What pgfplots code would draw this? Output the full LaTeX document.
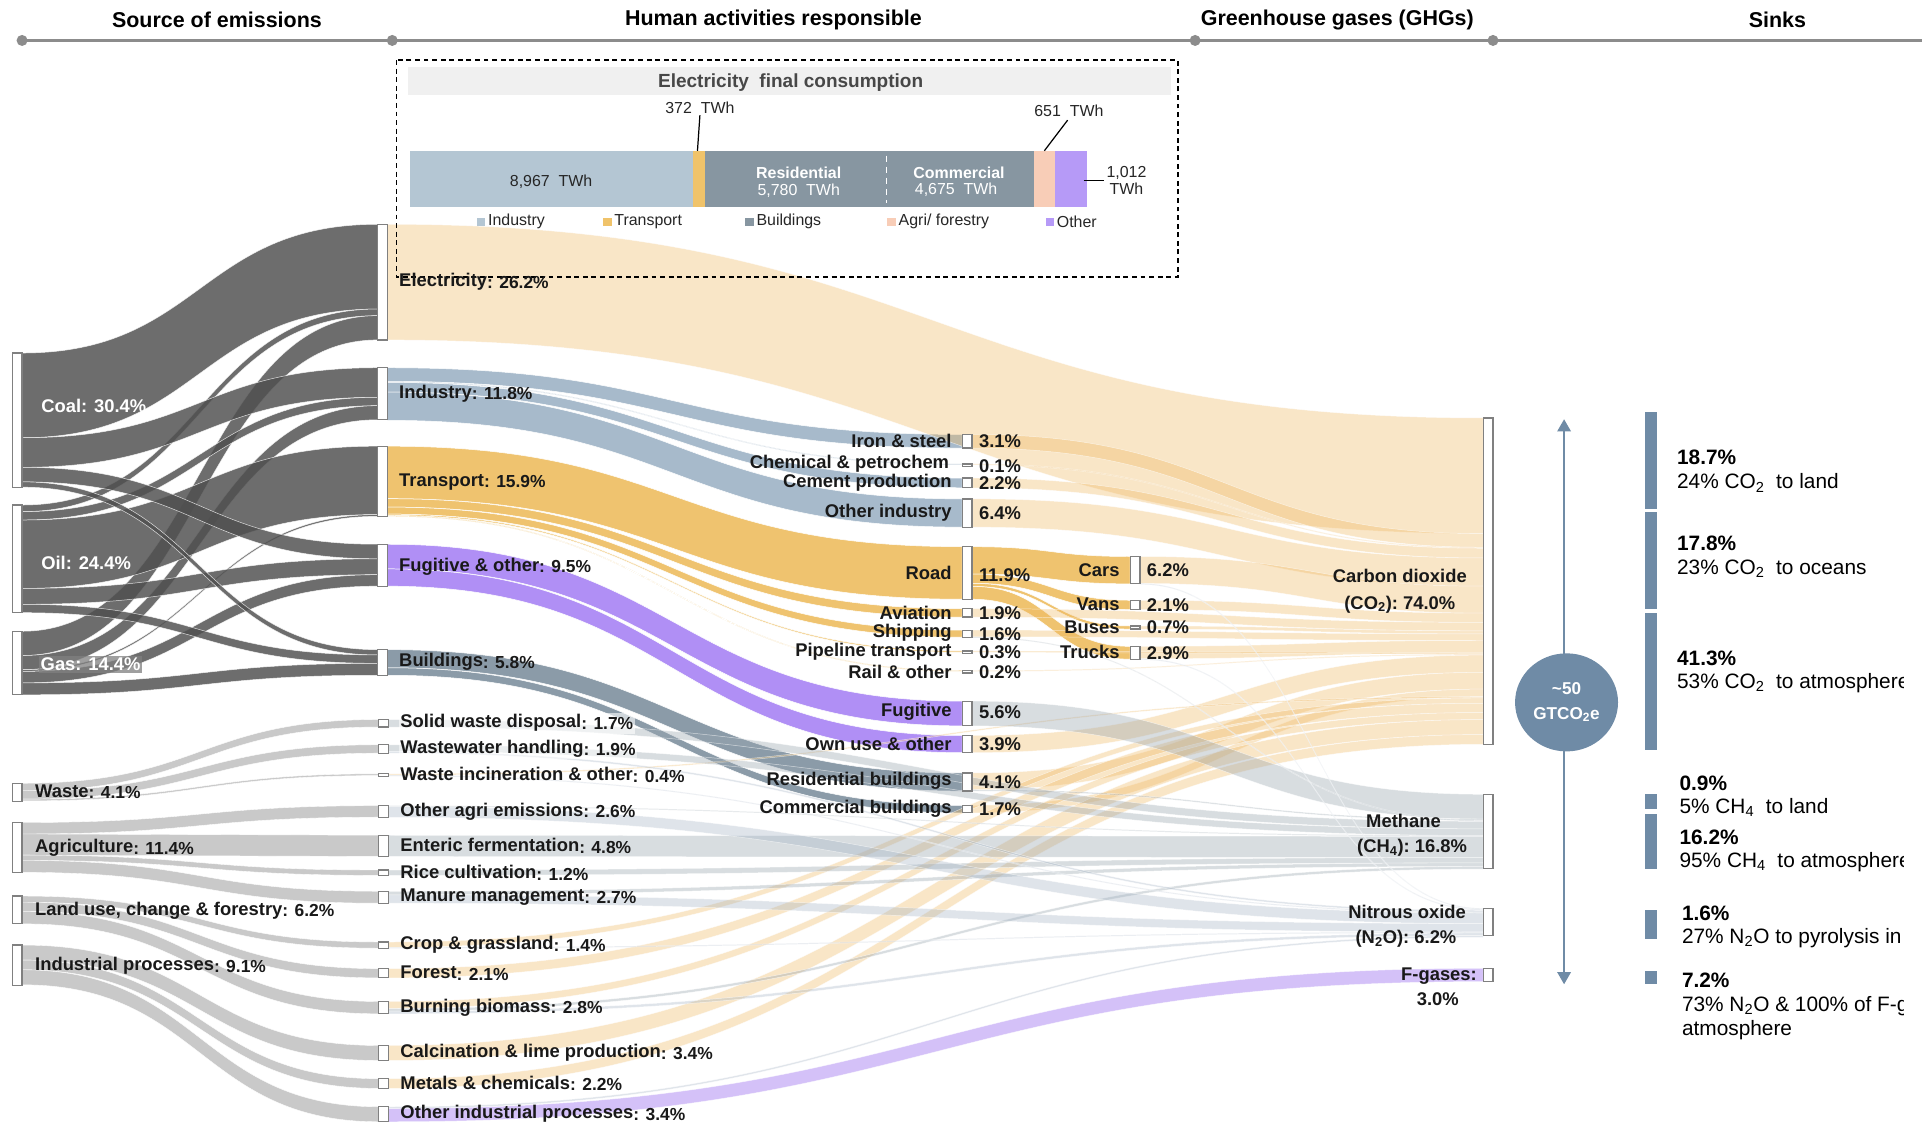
\documentclass[border=0pt]{standalone}
\usepackage{fontspec}
\setmainfont{Liberation Sans}
\usepackage{pgfplots}
\pgfplotsset{compat=1.18}
\usetikzlibrary{arrows.meta}

\definecolor{srcg}{RGB}{80,80,80}
\definecolor{lowg}{RGB}{188,188,188}
\definecolor{cind}{RGB}{167,186,203}
\definecolor{ctr}{RGB}{239,195,111}
\definecolor{cfug}{RGB}{176,143,245}
\definecolor{cbld}{RGB}{139,155,168}
\definecolor{cco2}{RGB}{240,184,96}
\definecolor{cch4}{RGB}{154,166,176}
\definecolor{cn2o}{RGB}{160,176,194}
\definecolor{cfg}{RGB}{178,143,244}
\definecolor{sinkc}{RGB}{111,139,166}
\definecolor{nodeb}{RGB}{128,128,128}
\definecolor{hdr}{RGB}{140,140,140}
\definecolor{txt}{RGB}{25,25,25}
\definecolor{bInd}{RGB}{180,198,211}
\definecolor{bTr}{RGB}{240,195,106}
\definecolor{bBl}{RGB}{135,150,161}
\definecolor{bAg}{RGB}{248,205,183}
\definecolor{bOt}{RGB}{182,154,247}

\newcommand\F[1]{\fontsize{#1}{#1}\selectfont}
\newcommand\pc[1]{\raisebox{-1.2pt}{\F{14.2}\bfseries: #1}}

\tikzset{
 fsrc/.style={fill=srcg, fill opacity=0.83, draw=white, draw opacity=0.8, line width=0.4pt},
 flow/.style={fill=lowg, fill opacity=0.8, draw=white, line width=0.3pt},
 find/.style={fill=cind, draw=white, line width=0.4pt},
 ftr/.style={fill=ctr, draw=white, line width=0.4pt},
 ffug/.style={fill=cfug, draw=white, line width=0.4pt},
 fbld/.style={fill=cbld, draw=white, line width=0.4pt},
 fco2/.style={fill=cco2, fill opacity=0.35, draw=white, draw opacity=0.6, line width=0.4pt},
 fch4/.style={fill=cch4, fill opacity=0.38, draw=white, draw opacity=0.6, line width=0.4pt},
 fn2o/.style={fill=cn2o, fill opacity=0.33, draw=white, draw opacity=0.6, line width=0.4pt},
 ffg/.style={fill=cfg, fill opacity=0.55, draw=white, draw opacity=0.6, line width=0.4pt},
 lb/.style={font={\F{15}\bfseries}, text=txt, inner sep=0.5pt},
 gl/.style={font={\F{15}\bfseries}, text=txt, inner sep=0pt},
 sk/.style={font={\F{17}}, text=black, anchor=west, inner sep=0pt},
 skb/.style={font={\F{17}\bfseries}, text=black, anchor=west, inner sep=0pt},
 it/.style={font={\F{13}}, text=black!85, inner sep=0pt}
}

% node: name, x, ytop, value
\newcommand\defnode[4]{%
  \expandafter\xdef\csname NX#1\endcsname{#2}%
  \expandafter\xdef\csname NT#1\endcsname{#3}%
  \expandafter\xdef\csname NV#1\endcsname{#4}%
  \expandafter\xdef\csname NO#1\endcsname{#3}%
  \expandafter\xdef\csname NI#1\endcsname{#3}}

% flow: source, target, value (% of total), style
\newcommand\flow[4]{%
  \pgfmathsetmacro\fxa{\csname NX#1\endcsname+8}%
  \pgfmathsetmacro\fya{\csname NO#1\endcsname}%
  \pgfmathsetmacro\fxb{\csname NX#2\endcsname}%
  \pgfmathsetmacro\fyb{\csname NI#2\endcsname}%
  \pgfmathsetmacro\fw{max(3.6*#3,0.8)}%
  \pgfmathsetmacro\fxm{(\fxa+\fxb)/2}%
  \pgfmathsetmacro\fyaa{\fya+\fw}%
  \pgfmathsetmacro\fybb{\fyb+\fw}%
  \expandafter\xdef\csname NO#1\endcsname{\fyaa}%
  \expandafter\xdef\csname NI#2\endcsname{\fybb}%
  \edef\flowcmd{\noexpand\fill[#4] (axis cs:\fxa,\fya) .. controls (axis cs:\fxm,\fya) and (axis cs:\fxm,\fyb) .. (axis cs:\fxb,\fyb) -- (axis cs:\fxb,\fybb) .. controls (axis cs:\fxm,\fybb) and (axis cs:\fxm,\fyaa) .. (axis cs:\fxa,\fyaa) -- cycle;}%
  \flowcmd}

\newcommand\nbox[1]{%
  \pgfmathsetmacro\bxa{\csname NX#1\endcsname}%
  \pgfmathsetmacro\bxb{\bxa+8}%
  \pgfmathsetmacro\bya{\csname NT#1\endcsname}%
  \pgfmathsetmacro\byb{\bya+max(3.6*\csname NV#1\endcsname,2)}%
  \edef\boxcmd{\noexpand\draw[fill=white, draw=nodeb, line width=1pt] (axis cs:\bxa,\bya) rectangle (axis cs:\bxb,\byb);}%
  \boxcmd}

\begin{document}
\begin{tikzpicture}
\useasboundingbox (0,0) rectangle (1568pt,918pt);
\fill[white] (0,0) rectangle (1568pt,918pt);

% ---------- inset stacked bar (electricity final consumption, TWh) ----------
\begin{axis}[at={(334.5pt,749pt)}, anchor=south west, scale only axis,
  width=552pt, height=46pt, xmin=0, xmax=21457, ymin=-0.5, ymax=0.5,
  hide axis, xbar stacked, bar width=46pt, clip=false, enlargelimits=false]
\addplot[fill=bInd, draw=none] coordinates {(8967,0)};
\addplot[fill=bTr, draw=none] coordinates {(372,0)};
\addplot[fill=bBl, draw=none] coordinates {(5780,0)};
\addplot[fill=bBl, draw=none] coordinates {(4675,0)};
\addplot[fill=bAg, draw=none] coordinates {(651,0)};
\addplot[fill=bOt, draw=none] coordinates {(1012,0)};
\end{axis}

\begin{axis}[at={(0pt,0pt)}, anchor=south west, scale only axis,
  width=1568pt, height=918pt, xmin=0, xmax=1568, ymin=0, ymax=918,
  y dir=reverse, hide axis, clip=false]

% ---------- nodes ----------
\defnode{coal}{10}{288}{30.4}
\defnode{oil}{10}{412}{24.4}
\defnode{gas}{10}{515}{14.4}
\defnode{waste}{10}{639}{4.1}
\defnode{agri}{10}{671}{11.4}
\defnode{land}{10}{731}{6.2}
\defnode{indp}{10}{771}{9.1}
\defnode{elec}{308}{183}{26.2}
\defnode{ind}{308}{300}{11.8}
\defnode{trans}{308}{364}{15.9}
\defnode{fug}{308}{444}{9.5}
\defnode{bld}{308}{530}{5.8}
\defnode{sw}{309}{587}{1.7}
\defnode{ww}{309}{607.6}{1.9}
\defnode{inc}{309}{631.3}{0.4}
\defnode{oag}{309}{657.3}{2.6}
\defnode{ent}{309}{681.4}{4.8}
\defnode{rice}{309}{709.8}{1.2}
\defnode{man}{309}{727.1}{2.7}
\defnode{crop}{309}{768.5}{1.4}
\defnode{forest}{309}{790.2}{2.1}
\defnode{burn}{309}{817}{2.8}
\defnode{calc}{309}{852.9}{3.4}
\defnode{met}{309}{880}{2.2}
\defnode{oip}{309}{902.9}{3.4}
\defnode{iron}{785}{354.4}{3.1}
\defnode{chem}{785}{378.5}{0.1}
\defnode{cem}{785}{390}{2.2}
\defnode{oind}{785}{407}{6.4}
\defnode{road}{785}{446}{11.9}
\defnode{avi}{785}{496.6}{1.9}
\defnode{ship}{785}{514.1}{1.6}
\defnode{pipe}{785}{531}{0.3}
\defnode{rail}{785}{547}{0.2}
\defnode{fugv}{785}{572}{5.6}
\defnode{own}{785}{600}{3.9}
\defnode{res}{785}{630.6}{4.1}
\defnode{com}{785}{657}{1.7}
\defnode{cars}{922}{454}{6.2}
\defnode{vans}{922}{489.7}{2.1}
\defnode{buses}{922}{510.7}{0.7}
\defnode{trucks}{922}{527.3}{2.9}
\defnode{co2}{1210}{341}{74.0}
\defnode{ch4}{1210}{648}{16.8}
\defnode{n2o}{1210}{741}{6.2}
\defnode{fgas}{1210}{790}{3.0}

% ---------- flows: fuels -> activities ----------
\flow{coal}{elec}{19.2}{fsrc}
\flow{oil}{elec}{1.5}{fsrc}
\flow{gas}{elec}{5.5}{fsrc}
\flow{coal}{ind}{6.7}{fsrc}
\flow{oil}{ind}{1.9}{fsrc}
\flow{gas}{ind}{3.2}{fsrc}
\flow{oil}{trans}{15.5}{fsrc}
\flow{gas}{trans}{0.4}{fsrc}
\flow{coal}{fug}{3.3}{fsrc}
\flow{oil}{fug}{3.6}{fsrc}
\flow{gas}{fug}{2.6}{fsrc}
\flow{coal}{bld}{1.2}{fsrc}
\flow{oil}{bld}{1.9}{fsrc}
\flow{gas}{bld}{2.7}{fsrc}
% other sources
\flow{waste}{sw}{1.7}{flow}
\flow{waste}{ww}{1.9}{flow}
\flow{waste}{inc}{0.4}{flow}
\flow{agri}{oag}{2.6}{flow}
\flow{agri}{ent}{4.8}{flow}
\flow{agri}{rice}{1.2}{flow}
\flow{agri}{man}{2.7}{flow}
\flow{land}{crop}{1.4}{flow}
\flow{land}{forest}{2.1}{flow}
\flow{land}{burn}{2.8}{flow}
\flow{indp}{calc}{3.4}{flow}
\flow{indp}{met}{2.2}{flow}
\flow{indp}{oip}{3.4}{flow}
% activities -> sub-activities
\flow{ind}{iron}{3.1}{find}
\flow{ind}{chem}{0.1}{find}
\flow{ind}{cem}{2.2}{find}
\flow{ind}{oind}{6.4}{find}
\flow{trans}{road}{11.9}{ftr}
\flow{trans}{avi}{1.9}{ftr}
\flow{trans}{ship}{1.6}{ftr}
\flow{trans}{pipe}{0.3}{ftr}
\flow{trans}{rail}{0.2}{ftr}
\flow{fug}{fugv}{5.6}{ffug}
\flow{fug}{own}{3.9}{ffug}
\flow{bld}{res}{4.1}{fbld}
\flow{bld}{com}{1.7}{fbld}
\flow{road}{cars}{6.2}{ftr}
\flow{road}{vans}{2.1}{ftr}
\flow{road}{buses}{0.7}{ftr}
\flow{road}{trucks}{2.9}{ftr}
% -> CO2
\flow{elec}{co2}{26.2}{fco2}
\flow{iron}{co2}{3.1}{fco2}
\flow{chem}{co2}{0.1}{fco2}
\flow{cem}{co2}{2.2}{fco2}
\flow{oind}{co2}{6.4}{fco2}
\flow{cars}{co2}{6.1}{fco2}
\flow{vans}{co2}{2.1}{fco2}
\flow{avi}{co2}{1.9}{fco2}
\flow{buses}{co2}{0.7}{fco2}
\flow{ship}{co2}{1.5}{fco2}
\flow{trucks}{co2}{2.8}{fco2}
\flow{pipe}{co2}{0.3}{fco2}
\flow{rail}{co2}{0.2}{fco2}
\flow{own}{co2}{3.9}{fco2}
\flow{res}{co2}{3.8}{fco2}
\flow{com}{co2}{1.7}{fco2}
\flow{inc}{co2}{0.3}{fco2}
\flow{crop}{co2}{1.2}{fco2}
\flow{forest}{co2}{2.1}{fco2}
\flow{burn}{co2}{1.6}{fco2}
\flow{calc}{co2}{3.4}{fco2}
\flow{met}{co2}{2.2}{fco2}
% -> CH4
\flow{fugv}{ch4}{5.6}{fch4}
\flow{res}{ch4}{0.3}{fch4}
\flow{ship}{ch4}{0.1}{fch4}
\flow{sw}{ch4}{1.7}{fch4}
\flow{ww}{ch4}{1.5}{fch4}
\flow{oag}{ch4}{0.2}{fch4}
\flow{ent}{ch4}{4.8}{fch4}
\flow{rice}{ch4}{1.2}{fch4}
\flow{man}{ch4}{0.8}{fch4}
\flow{burn}{ch4}{0.6}{fch4}
% -> N2O
\flow{cars}{n2o}{0.1}{fn2o}
\flow{trucks}{n2o}{0.1}{fn2o}
\flow{ww}{n2o}{0.4}{fn2o}
\flow{inc}{n2o}{0.1}{fn2o}
\flow{oag}{n2o}{2.4}{fn2o}
\flow{man}{n2o}{1.9}{fn2o}
\flow{crop}{n2o}{0.2}{fn2o}
\flow{burn}{n2o}{0.6}{fn2o}
\flow{oip}{n2o}{0.4}{fn2o}
% -> F-gases
\flow{oip}{fgas}{3.0}{ffg}

% ---------- node boxes ----------
\nbox{coal}\nbox{oil}\nbox{gas}\nbox{waste}\nbox{agri}\nbox{land}\nbox{indp}
\nbox{elec}\nbox{ind}\nbox{trans}\nbox{fug}\nbox{bld}
\nbox{sw}\nbox{ww}\nbox{inc}\nbox{oag}\nbox{ent}\nbox{rice}\nbox{man}
\nbox{crop}\nbox{forest}\nbox{burn}\nbox{calc}\nbox{met}\nbox{oip}
\nbox{iron}\nbox{chem}\nbox{cem}\nbox{oind}\nbox{road}\nbox{avi}\nbox{ship}
\nbox{pipe}\nbox{rail}\nbox{fugv}\nbox{own}\nbox{res}\nbox{com}
\nbox{cars}\nbox{vans}\nbox{buses}\nbox{trucks}
\nbox{co2}\nbox{ch4}\nbox{n2o}\nbox{fgas}

% ---------- header ----------
\draw[hdr, line width=1.8pt] (axis cs:18,33) -- (axis cs:1568,33);
\fill[hdr] (axis cs:18,33) circle[radius=4.5];
\fill[hdr] (axis cs:320,33) circle[radius=4.5];
\fill[hdr] (axis cs:975,33) circle[radius=4.5];
\fill[hdr] (axis cs:1218,33) circle[radius=4.5];
\node[font={\F{17.5}\bfseries}] at (axis cs:177,16) {Source of emissions};
\node[font={\F{17.5}\bfseries}] at (axis cs:631,16) {Human activities responsible};
\node[font={\F{17.5}\bfseries}] at (axis cs:1091,16) {Greenhouse gases (GHGs)};
\node[font={\F{17.5}\bfseries}] at (axis cs:1450,16) {Sinks};

% ---------- inset frame and texts ----------
\draw[black, line width=1.2pt, dash pattern=on 4pt off 3pt] (axis cs:323.5,49) rectangle (axis cs:961,226);
\fill[black!6] (axis cs:333,54.5) rectangle (axis cs:955,77.5);
\node[font={\F{15.5}\bfseries}, text=black!72] at (axis cs:645,67) {Electricity\ \ final consumption};
\draw[white, line width=1.2pt, dash pattern=on 5pt off 4pt] (axis cs:723.4,127) -- (axis cs:723.4,166);
\node[it] at (axis cs:449.6,148.5) {8,967\ \ TWh};
\node[font={\F{13}\bfseries}, text=white, inner sep=0pt] at (axis cs:651.6,140.6) {Residential};
\node[font={\F{13}}, text=white, inner sep=0pt] at (axis cs:651.6,155.8) {5,780\ \ TWh};
\node[font={\F{13}\bfseries}, text=white, inner sep=0pt] at (axis cs:782.4,140.6) {Commercial};
\node[font={\F{13}}, text=white, inner sep=0pt] at (axis cs:780,155) {4,675\ \ TWh};
\node[it, anchor=center] at (axis cs:571,88) {372\ \ TWh};
\draw[black, line width=1pt] (axis cs:571,94) -- (axis cs:569,123);
\node[it, anchor=center] at (axis cs:872,90) {651\ \ TWh};
\draw[black, line width=1pt] (axis cs:871,98) -- (axis cs:852,123);
\node[it, anchor=center, align=center] at (axis cs:919,147.5) {1,012\\[1pt]TWh};
\draw[black, line width=1pt] (axis cs:884,147) -- (axis cs:901,147);
% legend
\fill[bInd] (axis cs:389,177.5) rectangle (axis cs:396,184.5);
\node[it, anchor=west] at (axis cs:398,181) {Industry};
\fill[bTr] (axis cs:492,177.5) rectangle (axis cs:499,184.5);
\node[it, anchor=west] at (axis cs:501,181) {Transport};
\fill[bBl] (axis cs:608,177.5) rectangle (axis cs:615,184.5);
\node[it, anchor=west] at (axis cs:617,181) {Buildings};
\fill[bAg] (axis cs:724,177.5) rectangle (axis cs:731,184.5);
\node[it, anchor=west] at (axis cs:733,181) {Agri/ forestry};
\fill[bOt] (axis cs:853,177.5) rectangle (axis cs:860,184.5);
\node[it, anchor=west] at (axis cs:862,181) {Other};

% ---------- labels: sources ----------
\node[lb, anchor=west, text=white, font={\F{15}\bfseries}] at (axis cs:33,331) {Coal: 30.4\%};
\node[lb, anchor=west, text=white, font={\F{15}\bfseries}] at (axis cs:33,459) {Oil: 24.4\%};
\node[lb, anchor=west, text=white, font={\F{15}\bfseries}, fill=black!50, fill opacity=0.75, text opacity=1, inner sep=1.5pt] at (axis cs:31.5,542) {Gas: 14.4\%};
\node[lb, anchor=west] at (axis cs:28,646) {Waste\pc{4.1\%}};
\node[lb, anchor=west] at (axis cs:28,692) {Agriculture\pc{11.4\%}};
\node[lb, anchor=west] at (axis cs:28,743) {Land use, change \& forestry\pc{6.2\%}};
\node[lb, anchor=west] at (axis cs:28,788) {Industrial processes\pc{9.1\%}};

% ---------- labels: activities ----------
\node[lb, anchor=west] at (axis cs:325,230) {Electricity\pc{26.2\%}};
\node[lb, anchor=west] at (axis cs:325,321) {Industry\pc{11.8\%}};
\node[lb, anchor=west] at (axis cs:325,393) {Transport\pc{15.9\%}};
\node[lb, anchor=west] at (axis cs:325,462) {Fugitive \& other\pc{9.5\%}};
\node[lb, anchor=west] at (axis cs:325,540) {Buildings\pc{5.8\%}};
\node[lb, anchor=west, fill=white, fill opacity=0.6, text opacity=1, inner sep=1.5pt] at (axis cs:325,590) {Solid waste disposal\pc{1.7\%}};
\node[lb, anchor=west, fill=white, fill opacity=0.5, text opacity=1, inner sep=1.5pt] at (axis cs:325,611) {Wastewater handling\pc{1.9\%}};
\node[lb, anchor=west] at (axis cs:326,632) {Waste incineration \& other\pc{0.4\%}};
\node[lb, anchor=west] at (axis cs:326,662) {Other agri emissions\pc{2.6\%}};
\node[lb, anchor=west] at (axis cs:326,690) {Enteric fermentation\pc{4.8\%}};
\node[lb, anchor=west] at (axis cs:326,712) {Rice cultivation\pc{1.2\%}};
\node[lb, anchor=west] at (axis cs:326,732) {Manure management\pc{2.7\%}};
\node[lb, anchor=west] at (axis cs:326,771) {Crop \& grassland\pc{1.4\%}};
\node[lb, anchor=west] at (axis cs:326,794) {Forest\pc{2.1\%}};
\node[lb, anchor=west] at (axis cs:326,822) {Burning biomass\pc{2.8\%}};
\node[lb, anchor=west] at (axis cs:326,859) {Calcination \& lime production\pc{3.4\%}};
\node[lb, anchor=west] at (axis cs:326,884) {Metals \& chemicals\pc{2.2\%}};
\node[lb, anchor=west] at (axis cs:326,909) {Other industrial processes\pc{3.4\%}};

% ---------- labels: sub-activities ----------
\node[lb, anchor=east] at (axis cs:777,360) {Iron \& steel};
\node[lb, anchor=east] at (axis cs:775,378) {Chemical \& petrochem};
\node[lb, anchor=east] at (axis cs:777,394) {Cement production};
\node[lb, anchor=east] at (axis cs:777,418) {Other industry};
\node[lb, anchor=east] at (axis cs:777,467) {Road};
\node[lb, anchor=east] at (axis cs:777,500) {Aviation};
\node[lb, anchor=east] at (axis cs:777,516) {Shipping};
\node[lb, anchor=east] at (axis cs:777,532) {Pipeline transport};
\node[lb, anchor=east] at (axis cs:777,548) {Rail \& other};
\node[lb, anchor=east] at (axis cs:777,581) {Fugitive};
\node[lb, anchor=east] at (axis cs:777,607) {Own use \& other};
\node[lb, anchor=east] at (axis cs:777,637) {Residential buildings};
\node[lb, anchor=east] at (axis cs:777,660) {Commercial buildings};
\node[lb, anchor=west] at (axis cs:798,360) {3.1\%};
\node[lb, anchor=west] at (axis cs:798,380) {0.1\%};
\node[lb, anchor=west] at (axis cs:798,394) {2.2\%};
\node[lb, anchor=west] at (axis cs:798,419) {6.4\%};
\node[lb, anchor=west] at (axis cs:798,469) {11.9\%};
\node[lb, anchor=west] at (axis cs:798,500) {1.9\%};
\node[lb, anchor=west] at (axis cs:798,517) {1.6\%};
\node[lb, anchor=west] at (axis cs:798,532) {0.3\%};
\node[lb, anchor=west] at (axis cs:798,548) {0.2\%};
\node[lb, anchor=west] at (axis cs:798,581) {5.6\%};
\node[lb, anchor=west] at (axis cs:798,607) {3.9\%};
\node[lb, anchor=west] at (axis cs:798,638) {4.1\%};
\node[lb, anchor=west] at (axis cs:798,660) {1.7\%};
\node[lb, anchor=east] at (axis cs:914,465) {Cars};
\node[lb, anchor=east] at (axis cs:914,493) {Vans};
\node[lb, anchor=east] at (axis cs:914,512) {Buses};
\node[lb, anchor=east] at (axis cs:914,532) {Trucks};
\node[lb, anchor=west] at (axis cs:935,465) {6.2\%};
\node[lb, anchor=west] at (axis cs:935,494) {2.1\%};
\node[lb, anchor=west] at (axis cs:935,512) {0.7\%};
\node[lb, anchor=west] at (axis cs:935,533) {2.9\%};

% ---------- labels: gases ----------
\node[gl] at (axis cs:1142,470) {Carbon dioxide};
\node[gl] at (axis cs:1142,493) {(CO\textsubscript{2}):\ 74.0\%};
\node[gl] at (axis cs:1145,670) {Methane};
\node[gl] at (axis cs:1152,692) {(CH\textsubscript{4}):\ 16.8\%};
\node[gl] at (axis cs:1148,744) {Nitrous oxide};
\node[gl] at (axis cs:1147,766) {(N\textsubscript{2}O):\ 6.2\%};
\node[gl, anchor=east] at (axis cs:1205,796) {F-gases:};
\node[gl] at (axis cs:1173,815) {3.0\%};

% ---------- sinks ----------
\draw[sinkc, line width=1.6pt, {Triangle[width=11pt,length=10pt]}-{Triangle[width=11pt,length=10pt]}] (axis cs:1276,342) -- (axis cs:1276,803);
\fill[sinkc] (axis cs:1278,573) ellipse [x radius=42, y radius=40];
\node[font={\F{14}\bfseries}, text=white] at (axis cs:1278,562) {\textasciitilde 50};
\node[font={\F{14}\bfseries}, text=white] at (axis cs:1278,583) {GTCO\textsubscript{2}e};
\addplot[fill=sinkc, draw=none] coordinates {(1342,336) (1352,336) (1352,415) (1342,415)} --cycle;
\addplot[fill=sinkc, draw=none] coordinates {(1342,418) (1352,418) (1352,497) (1342,497)} --cycle;
\addplot[fill=sinkc, draw=none] coordinates {(1342,500) (1352,500) (1352,612) (1342,612)} --cycle;
\addplot[fill=sinkc, draw=none] coordinates {(1342,648) (1352,648) (1352,660) (1342,660)} --cycle;
\addplot[fill=sinkc, draw=none] coordinates {(1342,664) (1352,664) (1352,709) (1342,709)} --cycle;
\addplot[fill=sinkc, draw=none] coordinates {(1342,742) (1352,742) (1352,766) (1342,766)} --cycle;
\addplot[fill=sinkc, draw=none] coordinates {(1342,792) (1352,792) (1352,803) (1342,803)} --cycle;
\node[skb] at (axis cs:1368,373) {18.7\%};
\node[sk] at (axis cs:1368,394) {24\% CO\textsubscript{2}\ \ to land};
\node[skb] at (axis cs:1368,443) {17.8\%};
\node[sk] at (axis cs:1368,464) {23\% CO\textsubscript{2}\ \ to oceans};
\node[skb] at (axis cs:1368,537) {41.3\%};
\node[sk] at (axis cs:1368,557) {53\% CO\textsubscript{2}\ \ to atmosphere};
\node[skb] at (axis cs:1370,639) {0.9\%};
\node[sk] at (axis cs:1370,659) {5\% CH\textsubscript{4}\ \ to land};
\node[skb] at (axis cs:1370,683) {16.2\%};
\node[sk] at (axis cs:1370,703) {95\% CH\textsubscript{4}\ \ to atmosphere};
\node[skb] at (axis cs:1372,745) {1.6\%};
\node[sk] at (axis cs:1372,765) {27\% N\textsubscript{2}O to pyrolysis in stratosphere};
\node[skb] at (axis cs:1372,800) {7.2\%};
\node[sk] at (axis cs:1372,821) {73\% N\textsubscript{2}O \& 100\% of F-gases to};
\node[sk] at (axis cs:1372,840) {atmosphere};
\fill[white] (axis cs:1553,330) rectangle (axis cs:1600,860);
\end{axis}
\end{tikzpicture}
\end{document}
